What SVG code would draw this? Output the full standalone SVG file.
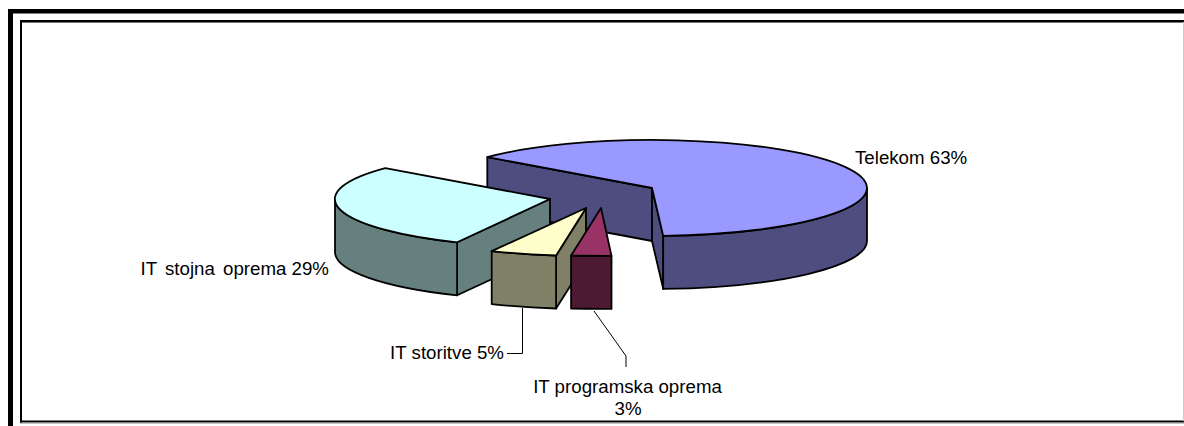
<svg xmlns="http://www.w3.org/2000/svg" width="1184" height="426" viewBox="0 0 1184 426">
<style>
.e{stroke:#000;stroke-width:1.8;stroke-linejoin:round}
.lbl{font-family:"Liberation Sans",Arial,sans-serif;font-size:18.7px;fill:#000}
.lead{stroke:#000;stroke-width:1;fill:none}
</style>
<rect width="1184" height="426" fill="#fff"/>
<g id="frame">
<rect x="8" y="9" width="5" height="417" fill="#000"/>
<rect x="8" y="9" width="1176" height="4.5" fill="#000"/>
<line x1="20" y1="21" x2="1184" y2="21" stroke="#000" stroke-width="2"/>
<line x1="20" y1="22.5" x2="1184" y2="22.5" stroke="#777" stroke-width="1"/>
<line x1="21" y1="20" x2="21" y2="423" stroke="#000" stroke-width="2"/>
<line x1="20" y1="421.5" x2="1184" y2="421.5" stroke="#000" stroke-width="2"/>
<line x1="20" y1="423" x2="1184" y2="423" stroke="#888" stroke-width="1"/>
<line x1="1183.5" y1="22" x2="1183.5" y2="421" stroke="#ccc" stroke-width="1"/>
</g>
<g id="telekom">
<path class="e" fill="#4D4D80" d="M487.3,157.1 L652,188 L652,241 L487.3,210.1 Z"/>
<path class="e" fill="#4D4D80" d="M652,188 L663.2,235.9 L663.2,288.9 L652,241 Z"/>
<path class="e" fill="#4D4D80" d="M867,188 A215,48 0 0,1 663.2,235.9 L663.2,288.9 A215,48 0 0,0 867,241 Z"/>
<path class="e" fill="#9999FF" d="M652,188 L487.3,157.1 A215,48 0 1,1 663.2,235.9 Z"/>
</g>
<g id="strojna">
<path class="e" fill="#668080" d="M550,199 L457.1,242.3 L457.1,295.3 L550,252 Z"/>
<path class="e" fill="#668080" d="M335,199 A215,48 0 0,0 457.1,242.3 L457.1,295.3 A215,48 0 0,1 335,252 Z"/>
<path class="e" fill="#CCFFFF" d="M550,199 L385.3,168.1 A215,48 0 0,0 457.1,242.3 Z"/>
</g>
<g id="storitve">
<path class="e" fill="#808066" d="M586,208 L556.1,255.5 L556.1,308.5 L586,261 Z"/>
<path class="e" fill="#808066" d="M556.1,255.5 A215,48 0 0,1 491.7,251.1 L491.7,304.1 A215,48 0 0,0 556.1,308.5 Z"/>
<path class="e" fill="#FFFFCC" d="M586,208 L556.1,255.5 A215,48 0 0,1 491.7,251.1 Z"/>
</g>
<g id="programska">
<path class="e" fill="#4D1A33" d="M611.5,255.9 A215,48 0 0,1 571.1,255.5 L571.1,308.5 A215,48 0 0,0 611.5,308.9 Z"/>
<path class="e" fill="#993366" d="M601,208 L611.5,255.9 A215,48 0 0,1 571.1,255.5 Z"/>
</g>
<g id="connectors">
<polyline class="lead" points="522.5,308 522.5,353.5 507,353.5"/>
<polyline class="lead" points="594,311 626,356 626,367"/>
</g>
<g id="labels">
<text class="lbl" x="855" y="164">Telekom 63%</text>
<text class="lbl" x="329" y="275" text-anchor="end">IT <tspan dx="3">stojna</tspan> <tspan dx="3">oprema 29%</tspan></text>
<text class="lbl" x="504" y="359" text-anchor="end">IT storitve 5%</text>
<text class="lbl" x="627.5" y="393" text-anchor="middle">IT programska oprema</text>
<text class="lbl" x="628" y="415" text-anchor="middle">3%</text>
</g>
</svg>
